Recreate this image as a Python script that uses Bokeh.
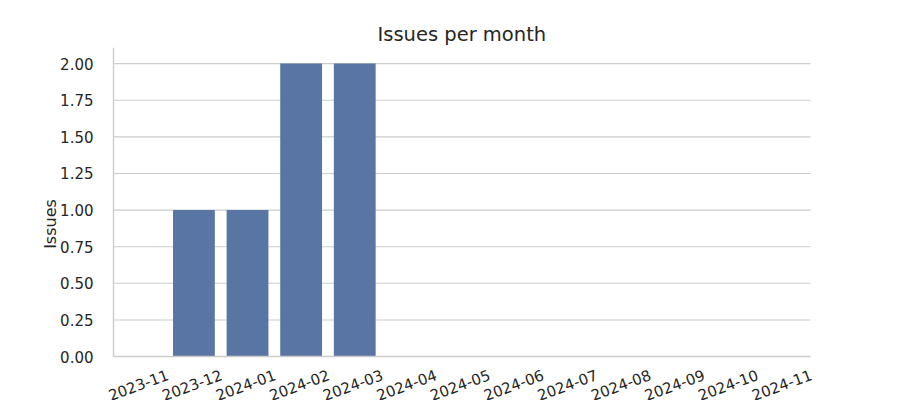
from bokeh.plotting import figure
from bokeh.models import (ColumnDataSource, Range1d, FixedTicker,
                          PrintfTickFormatter, LabelSet)
from bokeh.core.properties import value
from bokeh.embed import file_html
from bokeh.resources import INLINE
import math

months = ["2023-11", "2023-12", "2024-01", "2024-02", "2024-03", "2024-04",
          "2024-05", "2024-06", "2024-07", "2024-08", "2024-09", "2024-10", "2024-11"]
issues = [0, 1, 1, 2, 2, 0, 0, 0, 0, 0, 0, 0, 0]
y_ticks = [0, 0.25, 0.5, 0.75, 1.0, 1.25, 1.5, 1.75, 2.0]

FONT = "DejaVu Sans"
TEXT = "#262626"
GRID = "#cccccc"
BAR = "#5975a4"
Y_TOP = 2.11

n = len(months)
xs = [i + 0.5 for i in range(n)]  # category centres, one unit per month

src = ColumnDataSource(dict(x=xs, month=months, issues=issues, base=[0] * n))
grid_src = ColumnDataSource(dict(t=y_ticks))

# The frame reaches a little past the months on the left and to the right and
# bottom edges of the page, so the rotated month labels are never clipped;
# grid lines, spines and bars only cover the 13 months.
p = figure(width=900, height=400, x_range=Range1d(-0.2425, 14.68),
           y_range=Range1d(-0.30, Y_TOP), output_backend="svg", toolbar_location=None,
           title="Issues per month")
p.min_border_left = 100
p.min_border_right = 0
p.min_border_top = 47
p.min_border_bottom = 0
p.outline_line_color = None
p.background_fill_color = "white"
p.border_fill_color = "white"

p.title.align = "left"
p.title.offset = 277
p.title.text_font = FONT
p.title.text_font_size = "19.5px"
p.title.text_font_style = "normal"
p.title.text_color = TEXT
p.title.standoff = 4

p.grid.visible = False

# horizontal grid lines across the months
p.segment(x0=0, x1=n, y0="t", y1="t", source=grid_src,
          line_color=GRID, line_width=1.1)

p.vbar(x="x", top="issues", width=0.78, source=src, fill_color=BAR,
       line_color=None)

# bottom and left spines
p.segment(x0=0, x1=n, y0=0, y1=0, line_color=GRID, line_width=1.6)
p.segment(x0=0, x1=0, y0=0, y1=Y_TOP, line_color=GRID, line_width=1.4)

p.yaxis.ticker = FixedTicker(ticks=y_ticks)
p.yaxis.formatter = PrintfTickFormatter(format="%.2f")
p.yaxis.axis_label = "Issues"
p.yaxis.axis_label_text_font = FONT
p.yaxis.axis_label_text_font_size = "16px"
p.yaxis.axis_label_text_font_style = "normal"
p.yaxis.axis_label_text_color = TEXT
p.yaxis.axis_label_standoff = -3
p.yaxis.major_label_text_font = FONT
p.yaxis.major_label_text_font_size = "15px"
p.yaxis.major_label_text_color = TEXT
p.yaxis.major_label_standoff = 1
p.yaxis.major_tick_line_color = None
p.yaxis.minor_tick_line_color = None
p.yaxis.axis_line_color = None

p.xaxis.visible = False

labels = LabelSet(x="x", y="base", text="month", source=src,
                  x_offset=-2, y_offset=-28, angle=math.radians(20),
                  text_align="center", text_baseline="middle",
                  text_font=value(FONT), text_font_size=value("15px"),
                  text_color=TEXT)
p.add_layout(labels)

open("out.html", "w").write(file_html(p, INLINE))
